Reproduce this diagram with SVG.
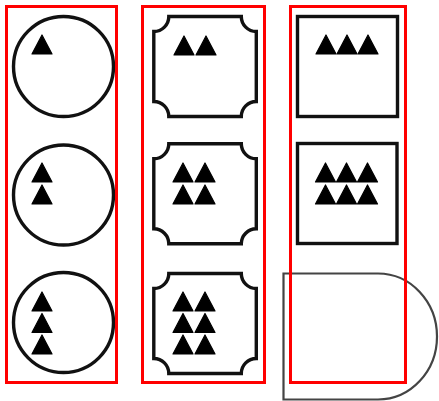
<svg xmlns="http://www.w3.org/2000/svg" width="439" height="401" viewBox="0 0 439 401">
<style>
.sh{fill:none;stroke:#111;stroke-width:3.4}
.t{fill:#000;stroke:#000;stroke-width:1.2;stroke-linejoin:round}
.frame{fill:none;stroke:#ff0000;stroke-width:3}
.d{fill:none;stroke:#444;stroke-width:2.2}
</style>
<defs>
<polygon id="tri" class="t" points="10,0 20,19 0,19"/>
<path id="notch" class="sh" d="M0,15 A15,15 0 0 0 15,0 H87.5 A15,15 0 0 0 102.5,15 V85 A15,15 0 0 0 87.5,100 H15 A15,15 0 0 0 0,85 Z"/>
</defs>
<rect width="439" height="401" fill="#fff"/>
<g id="c1">
<circle class="sh" cx="63.5" cy="66.5" r="50"/>
<use href="#tri" x="32" y="35"/>
</g>
<g id="c2">
<circle class="sh" cx="63.5" cy="195" r="50"/>
<use href="#tri" x="32" y="163"/>
<use href="#tri" x="32" y="185"/>
</g>
<g id="c3">
<circle class="sh" cx="63.5" cy="322.5" r="50"/>
<use href="#tri" x="32" y="292"/>
<use href="#tri" x="32" y="313.5"/>
<use href="#tri" x="32" y="335"/>
</g>
<g id="m1">
<use href="#notch" x="153.8" y="16.5"/>
<use href="#tri" x="174" y="36"/>
<use href="#tri" x="196" y="36"/>
</g>
<g id="m2">
<use href="#notch" x="153.8" y="143.8"/>
<use href="#tri" x="173" y="163"/>
<use href="#tri" x="195" y="163"/>
<use href="#tri" x="173" y="185"/>
<use href="#tri" x="195" y="185"/>
</g>
<g id="m3">
<use href="#notch" x="153.8" y="273.5"/>
<use href="#tri" x="173" y="292"/>
<use href="#tri" x="195" y="292"/>
<use href="#tri" x="173" y="313.5"/>
<use href="#tri" x="195" y="313.5"/>
<use href="#tri" x="173" y="335"/>
<use href="#tri" x="195" y="335"/>
</g>
<g id="s1">
<rect class="sh" x="297.5" y="16.5" width="100" height="100"/>
<use href="#tri" x="316" y="35"/>
<use href="#tri" x="337" y="35"/>
<use href="#tri" x="358" y="35"/>
</g>
<g id="s2">
<rect class="sh" x="297.5" y="143.5" width="99.5" height="100"/>
<use href="#tri" x="315.5" y="163"/>
<use href="#tri" x="336.5" y="163"/>
<use href="#tri" x="357.5" y="163"/>
<use href="#tri" x="315.5" y="185"/>
<use href="#tri" x="336.5" y="185"/>
<use href="#tri" x="357.5" y="185"/>
</g>
<g id="dshape">
<path class="d" d="M283.5,273.5 H378 A59,63 0 0 1 378,399.5 H283.5 Z"/>
</g>
<g id="frames">
<rect class="frame" x="6.5" y="6.5" width="110" height="376"/>
<rect class="frame" x="142.5" y="6.5" width="122" height="376"/>
<rect class="frame" x="290.5" y="6.5" width="115" height="376"/>
</g>
</svg>
